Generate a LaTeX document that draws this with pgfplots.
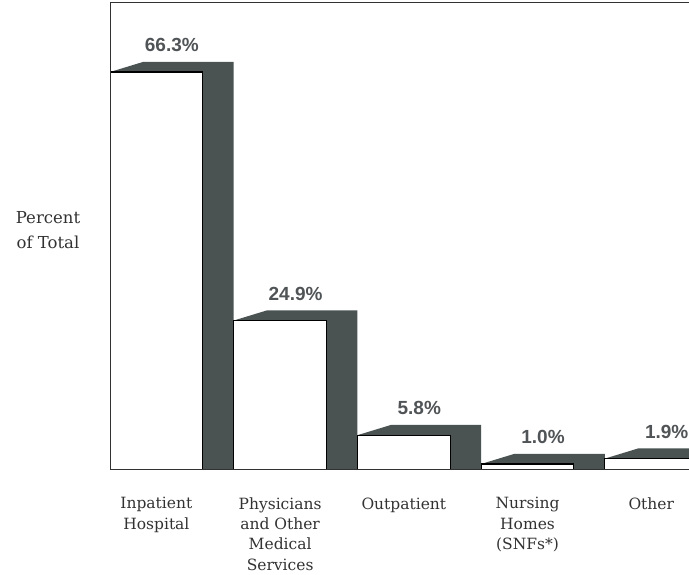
\documentclass[border=0pt]{standalone}
\usepackage{fontspec}
\setmainfont{DejaVu Serif}
\newfontfamily\valfont{Liberation Sans}
\usepackage{pgfplots}
\pgfplotsset{compat=1.18}
\definecolor{dark}{RGB}{74,82,82}
\definecolor{txt}{RGB}{50,50,50}
\definecolor{val}{RGB}{80,84,86}
\begin{document}
\begin{tikzpicture}[x=1pt,y=1pt]
\useasboundingbox (0,0) rectangle (689,575);
\clip (0,0) rectangle (689,575);
\begin{axis}[
  name=ax,
  at={(110pt,105pt)}, anchor=south west,
  scale only axis, width=579pt, height=467pt,
  xmin=0, xmax=4.68, ymin=0, ymax=77.8,
  axis line style={draw=none},
  ytick=\empty,
  xtick={0.375,1.375,2.375,3.375,4.375},
  xticklabels={{Inpatient\\Hospital},{Physicians\\and Other\\Medical\\Services},{Outpatient},{Nursing\\Homes\\(SNFs*)},{Other}},
  major tick length=0pt,
  xticklabel style={align=center, font=\fontsize{15.5}{20.3}\selectfont, text=txt, anchor=north, yshift=-24pt},
  /pgf/number format/assume math mode=true,
  clip=true,
]
% dark side and top of each bar
\addplot[fill=dark, draw=none] coordinates {(0,66.3) (0.27,68.0) (1,68.0) (1,0) (0.75,0) (0.75,66.3)} --cycle;
\addplot[fill=dark, draw=none] coordinates {(1,24.9) (1.27,26.6) (2,26.6) (2,0) (1.75,0) (1.75,24.9)} --cycle;
\addplot[fill=dark, draw=none] coordinates {(2,5.8) (2.27,7.5) (3,7.5) (3,0) (2.75,0) (2.75,5.8)} --cycle;
\addplot[fill=dark, draw=none] coordinates {(3,1.0) (3.27,2.7) (4,2.7) (4,0) (3.75,0) (3.75,1.0)} --cycle;
\addplot[fill=dark, draw=none] coordinates {(4,1.9) (4.27,3.6) (5,3.6) (5,0) (4.75,0) (4.75,1.9)} --cycle;
% front faces
\addplot[ybar, bar width=0.75, fill=white, draw=black, line width=1.1pt] coordinates {(0.375,66.3) (1.375,24.9) (2.375,5.8) (3.375,1.0) (4.375,1.9)};
% value labels
\addplot[draw=none, mark=none, point meta=y, nodes near coords={\pgfmathprintnumber[fixed,fixed zerofill,precision=1,assume math mode=true]{\pgfplotspointmeta}\%},
  nodes near coords style={font=\valfont\bfseries\fontsize{19}{19}\selectfont, text=val, anchor=center, yshift=27pt}]
  coordinates {(0.5,66.3) (1.5,24.9) (2.5,5.8) (3.5,1.0) (4.5,1.9)};
\end{axis}
\draw[txt, line width=1pt] (ax.north east) -- (ax.north west) -- (ax.south west) -- (ax.south east);
\node[align=center, font=\fontsize{16.5}{25}\selectfont, text=txt] at (48,345) {Percent\\of Total};
\end{tikzpicture}
\end{document}
